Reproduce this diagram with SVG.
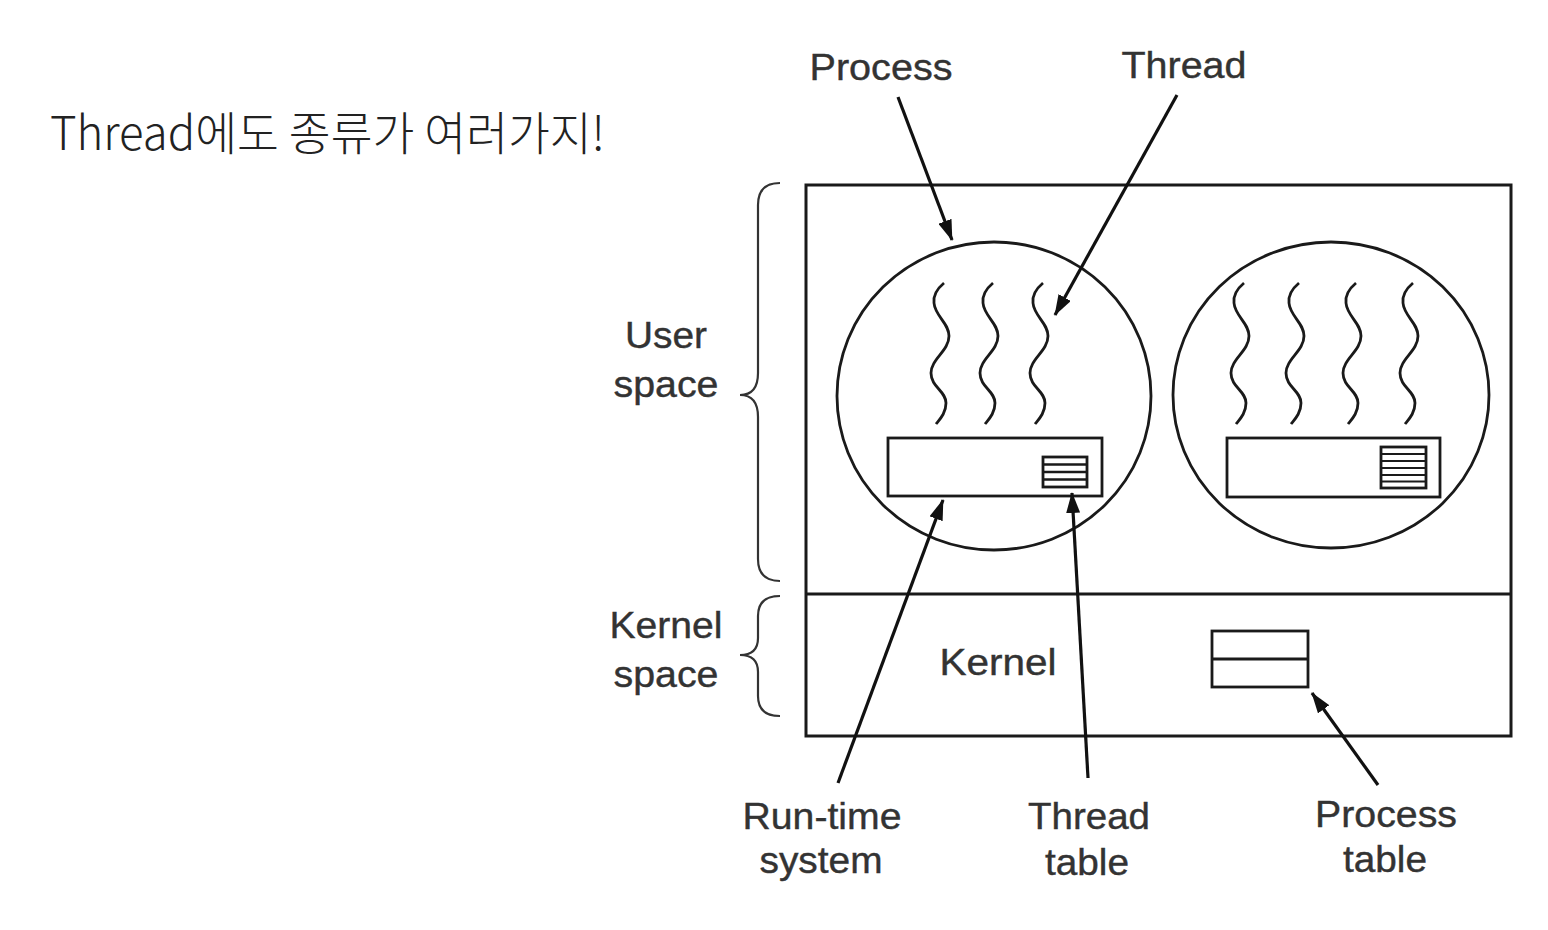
<svg xmlns="http://www.w3.org/2000/svg" width="1548" height="930" viewBox="0 0 1548 930">
  <style>
    .line { fill: none; stroke: #1a1a1a; stroke-width: 3; }
    .thin { fill: none; stroke: #1a1a1a; stroke-width: 2.8; }
    .brace { fill: none; stroke: #333; stroke-width: 2.2; }
    .lbl { font-family: "Liberation Sans", Arial, sans-serif; font-size: 36px; fill: #333; stroke: #333; stroke-width: 0.4; text-anchor: middle; }
    .title { font-family: "Noto Sans CJK KR", "Noto Sans", sans-serif; font-size: 46px; font-weight: 300; fill: #222; }
    .conn { stroke: #111; stroke-width: 3.2; fill: none; marker-end: url(#ah); }
  </style>
  <defs>
    <marker id="ah" markerUnits="userSpaceOnUse" markerWidth="22" markerHeight="14" refX="20" refY="7" orient="auto">
      <path d="M0,0 L21,7 L0,14 z" fill="#111"/>
    </marker>
    <path id="thr" class="thin" d="M4,0 C-2,5 -7,12 -6,20 C-5,33 9,40 9,53 C9,68 -9,76 -9,90 C-9,104 6,108 6,120 C6,130 0,136 -4,141"/>
  </defs>

  <rect width="1548" height="930" fill="#fff"/>

  <text class="title" x="50" y="150" textLength="555" lengthAdjust="spacingAndGlyphs">Thread에도 종류가 여러가지!</text>

  <g id="system-box">
    <rect class="line" x="806" y="185" width="705" height="551"/>
    <line class="line" x1="806" y1="594" x2="1511" y2="594"/>
  </g>

  <g id="user-space">
    <path class="brace" d="M780,183 Q758,183 758,205 L758,373 Q758,395 740,395 Q758,395 758,417 L758,559 Q758,581 780,581"/>
    <text class="lbl" x="666" y="348" textLength="82" lengthAdjust="spacingAndGlyphs">User</text>
    <text class="lbl" x="666" y="397" textLength="105" lengthAdjust="spacingAndGlyphs">space</text>
  </g>

  <g id="kernel-space">
    <path class="brace" d="M780,596 Q758,596 758,616 L758,638 Q758,655 740,655 Q758,655 758,672 L758,696 Q758,716 780,716"/>
    <text class="lbl" x="666" y="638" textLength="113" lengthAdjust="spacingAndGlyphs">Kernel</text>
    <text class="lbl" x="666" y="687" textLength="105" lengthAdjust="spacingAndGlyphs">space</text>
  </g>

  <g id="process-1">
    <ellipse class="thin" cx="994" cy="396" rx="157" ry="154"/>
    <use href="#thr" transform="translate(940,283)"/>
    <use href="#thr" transform="translate(989,283)"/>
    <use href="#thr" transform="translate(1039,283)"/>
    <rect class="thin" x="888" y="438" width="214" height="58"/>
    <rect class="thin" x="1043" y="457" width="44" height="30"/>
    <path class="thin" d="M1043,464.5 H1087 M1043,472 H1087 M1043,479.5 H1087" style="stroke-width:2.4"/>
  </g>

  <g id="process-2">
    <ellipse class="thin" cx="1331" cy="395" rx="158" ry="153"/>
    <use href="#thr" transform="translate(1240,283)"/>
    <use href="#thr" transform="translate(1295,283)"/>
    <use href="#thr" transform="translate(1352,283)"/>
    <use href="#thr" transform="translate(1409,283)"/>
    <rect class="thin" x="1227" y="438" width="213" height="59"/>
    <rect class="thin" x="1381" y="447" width="45" height="41"/>
    <path class="thin" d="M1381,454 H1426 M1381,461 H1426 M1381,468 H1426 M1381,475 H1426 M1381,481.5 H1426" style="stroke-width:2.2"/>
  </g>

  <g id="kernel">
    <text class="lbl" x="998" y="675" textLength="117" lengthAdjust="spacingAndGlyphs">Kernel</text>
    <rect class="thin" x="1212" y="631" width="96" height="56"/>
    <line class="thin" x1="1212" y1="659" x2="1308" y2="659"/>
  </g>

  <g id="labels">
    <text class="lbl" x="881" y="80" textLength="143" lengthAdjust="spacingAndGlyphs">Process</text>
    <text class="lbl" x="1184" y="78" textLength="125" lengthAdjust="spacingAndGlyphs">Thread</text>
    <text class="lbl" x="822" y="829" textLength="159" lengthAdjust="spacingAndGlyphs">Run-time</text>
    <text class="lbl" x="821" y="873" textLength="123" lengthAdjust="spacingAndGlyphs">system</text>
    <text class="lbl" x="1089" y="829" textLength="122" lengthAdjust="spacingAndGlyphs">Thread</text>
    <text class="lbl" x="1087" y="875" textLength="84" lengthAdjust="spacingAndGlyphs">table</text>
    <text class="lbl" x="1386" y="827" textLength="142" lengthAdjust="spacingAndGlyphs">Process</text>
    <text class="lbl" x="1385" y="872" textLength="84" lengthAdjust="spacingAndGlyphs">table</text>
  </g>

  <g id="connectors">
    <line class="conn" x1="898" y1="97" x2="952" y2="240"/>
    <line class="conn" x1="1177" y1="95" x2="1055" y2="315"/>
    <line class="conn" x1="838" y1="783" x2="943" y2="500"/>
    <line class="conn" x1="1088" y1="778" x2="1072" y2="493"/>
    <line class="conn" x1="1378" y1="785" x2="1312" y2="693"/>
  </g>
</svg>
